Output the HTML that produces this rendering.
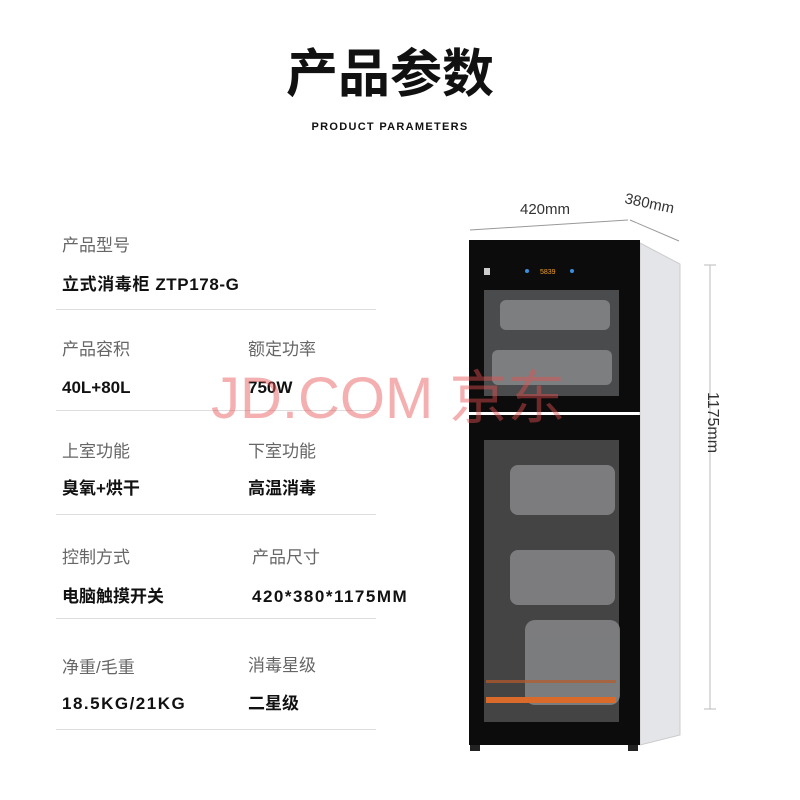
<!DOCTYPE html>
<html><head><meta charset="utf-8"><style>
*{margin:0;padding:0;box-sizing:border-box}
body{width:800px;height:800px;background:#fff;position:relative;overflow:hidden;font-family:"Liberation Sans","Noto Sans CJK SC",sans-serif}
.a{position:absolute;white-space:nowrap}
.l{font-size:17px;color:#666;line-height:20px}
.v{font-size:17px;color:#111;font-weight:bold;line-height:20px}
.hr{position:absolute;left:56px;width:320px;height:1px;background:#ddd}
</style></head><body>
<div class="a" style="left:0;width:780px;top:44px;text-align:center;font-size:52px;font-weight:bold;color:#111;line-height:62px">产品参数</div>
<div class="a" style="left:0;width:780px;top:121px;text-align:center;font-size:11px;font-weight:bold;color:#111;letter-spacing:1.3px">PRODUCT PARAMETERS</div>

<div class="a l" style="left:62px;top:236px">产品型号</div>
<div class="a v" style="left:62px;top:275px;letter-spacing:0.6px">立式消毒柜 ZTP178-G</div>
<div class="hr" style="top:309px"></div>
<div class="a l" style="left:62px;top:340px">产品容积</div>
<div class="a l" style="left:248px;top:340px">额定功率</div>
<div class="a v" style="left:62px;top:378px">40L+80L</div>
<div class="a v" style="left:248px;top:378px">750W</div>
<div class="hr" style="top:410px"></div>
<div class="a l" style="left:62px;top:442px">上室功能</div>
<div class="a l" style="left:248px;top:442px">下室功能</div>
<div class="a v" style="left:62px;top:479px">臭氧+烘干</div>
<div class="a v" style="left:248px;top:479px">高温消毒</div>
<div class="hr" style="top:514px"></div>
<div class="a l" style="left:62px;top:548px">控制方式</div>
<div class="a l" style="left:252px;top:548px">产品尺寸</div>
<div class="a v" style="left:62px;top:587px">电脑触摸开关</div>
<div class="a v" style="left:252px;top:587px;letter-spacing:1.5px">420*380*1175MM</div>
<div class="hr" style="top:618px"></div>
<div class="a l" style="left:62px;top:658px">净重/毛重</div>
<div class="a l" style="left:248px;top:656px">消毒星级</div>
<div class="a v" style="left:62px;top:694px;letter-spacing:1.5px">18.5KG/21KG</div>
<div class="a v" style="left:248px;top:694px">二星级</div>
<div class="hr" style="top:729px"></div>

<svg class="a" style="left:0;top:0" width="800" height="800">
 <line x1="470" y1="230" x2="628" y2="220" stroke="#999" stroke-width="1"/>
 <line x1="630" y1="220" x2="679" y2="241" stroke="#999" stroke-width="1"/>
 <line x1="704" y1="265" x2="716" y2="265" stroke="#bbb"/>
 <line x1="704" y1="709" x2="716" y2="709" stroke="#bbb"/>
 <line x1="710" y1="265" x2="710" y2="709" stroke="#bbb"/>
 <text x="520" y="214" font-size="15" fill="#333" font-family="Liberation Sans">420mm</text>
 <text x="624" y="203" font-size="15" fill="#333" font-family="Liberation Sans" transform="rotate(12 624 203)">380mm</text>
 <text x="708" y="392" font-size="16" fill="#333" font-family="Liberation Sans" transform="rotate(90 708 392)">1175mm</text>
 <polygon points="640,243 680,264 680,735 640,745" fill="#e4e5e8" stroke="#ccc"/>
 <rect x="469" y="240" width="171" height="172" fill="#0c0c0c"/>
 <rect x="469" y="415" width="171" height="330" fill="#0c0c0c"/>
 <rect x="484" y="290" width="135" height="106" fill="#4a4b4d"/>
 <rect x="484" y="440" width="135" height="282" fill="#444"/>
 <g fill="#8a8b8d" opacity="0.8">
  <rect x="500" y="300" width="110" height="30" rx="6"/>
  <rect x="492" y="350" width="120" height="35" rx="6"/>
  <rect x="510" y="465" width="105" height="50" rx="8"/>
  <rect x="510" y="550" width="105" height="55" rx="8"/>
  <rect x="525" y="620" width="95" height="85" rx="10"/>
 </g>
 <rect x="486" y="697" width="130" height="6" fill="#d96a2a"/>
 <rect x="486" y="680" width="130" height="3" fill="#b85a2a" opacity="0.7"/>
 <text x="540" y="274" font-size="7" fill="#f0a020" font-family="Liberation Sans">5839</text>
 <circle cx="527" cy="271" r="2" fill="#3a8ee0"/>
 <circle cx="572" cy="271" r="2" fill="#3a8ee0"/>
 <rect x="484" y="268" width="6" height="7" fill="#ccc"/>
 <rect x="470" y="745" width="10" height="6" fill="#222"/>
 <rect x="628" y="745" width="10" height="6" fill="#222"/>
</svg>
<div class="a" style="left:211px;top:364px;font-size:58px;color:rgba(230,80,80,0.45);line-height:70px">JD.COM 京东</div>
</body></html>
